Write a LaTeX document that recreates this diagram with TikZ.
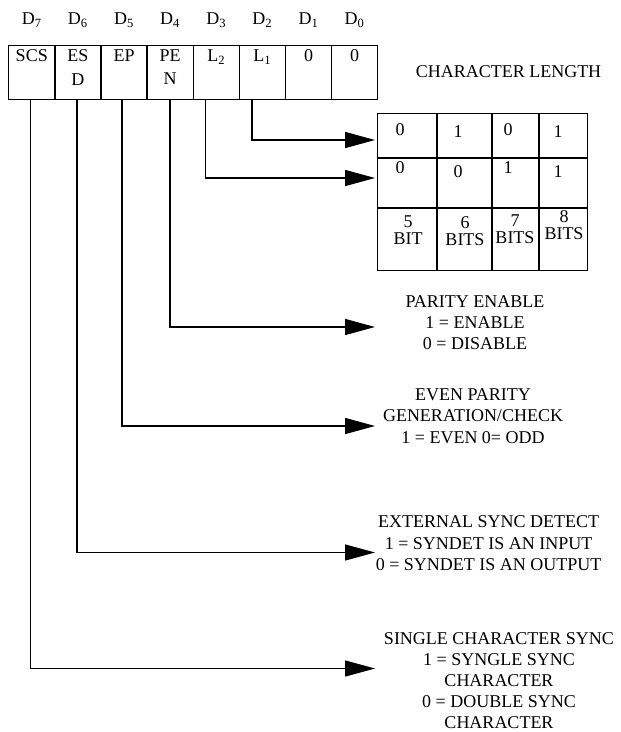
\documentclass[tikz,border=0pt]{standalone}
\usepackage{fontspec}
\setmainfont{Liberation Serif}
\usetikzlibrary{arrows.meta}
\begin{document}
\begin{tikzpicture}[x=1pt,y=-1pt,
  every node/.style={font=\fontsize{18}{21.4}\selectfont, inner sep=0pt},
  reg/.style={draw, line width=1.4pt, minimum width=46.125pt, minimum height=54pt, anchor=north west},
  dlab/.style={anchor=center},
  txt/.style={align=center},
  bits/.style={align=center, font=\fontsize{18}{16.5}\selectfont},
  conn/.style={line width=1.4pt, -{Triangle[length=30pt,width=16pt]}}
]
\useasboundingbox (0,0) rectangle (621,732);
\newcommand{\cellbox}[1]{\parbox[c][46pt][t]{44pt}{\centering\fontsize{18}{23.5}\selectfont #1}}
% register cells
\node[reg] (c7) at (8,45) {\cellbox{SCS}};
\node[reg] (c6) at (54.125,45) {\cellbox{ES\\D}};
\node[reg] (c5) at (100.25,45) {\cellbox{EP}};
\node[reg] (c4) at (146.375,45) {\cellbox{PE\\N}};
\node[reg] (c3) at (192.5,45) {\cellbox{L\textsubscript{2}}};
\node[reg] (c2) at (238.625,45) {\cellbox{L\textsubscript{1}}};
\node[reg] (c1) at (284.75,45) {\cellbox{0}};
\node[reg] (c0) at (330.875,45) {\cellbox{0}};
% bit labels
\node[dlab] (d7) at (c7.center |- 0,20) {D\textsubscript{7}};
\node[dlab] (d6) at (c6.center |- 0,20) {D\textsubscript{6}};
\node[dlab] (d5) at (c5.center |- 0,20) {D\textsubscript{5}};
\node[dlab] (d4) at (c4.center |- 0,20) {D\textsubscript{4}};
\node[dlab] (d3) at (c3.center |- 0,20) {D\textsubscript{3}};
\node[dlab] (d2) at (c2.center |- 0,20) {D\textsubscript{2}};
\node[dlab] (d1) at (c1.center |- 0,20) {D\textsubscript{1}};
\node[dlab] (d0) at (c0.center |- 0,20) {D\textsubscript{0}};
% character length
\node[txt] (cl) at (508.5,71.7) {CHARACTER LENGTH};
% table
\node[draw, line width=1.4pt, minimum width=210pt, minimum height=157pt, anchor=north west] (tbl) at (377,113) {};
\draw[line width=1.4pt] (377,158) -- (587,158) (377,208) -- (587,208)
  (437,113) -- (437,270) (492,113) -- (492,270) (539,113) -- (539,270);
\node (r1a) at (400,130) {0};
\node (r1b) at (458,132) {1};
\node (r1c) at (508,130) {0};
\node (r1d) at (558,132) {1};
\node (r2a) at (400,168) {0};
\node (r2b) at (458,172) {0};
\node (r2c) at (508,168) {1};
\node (r2d) at (558,172) {1};
\node[bits] (r3a) at (408,230) {5\\BIT};
\node[bits] (r3b) at (465,231) {6\\BITS};
\node[bits] (r3c) at (515,229) {7\\BITS};
\node[bits] (r3d) at (564,225) {8\\BITS};
% descriptions
\node[txt] (pe) at (475,322.7) {PARITY ENABLE\\1 = ENABLE\\0 = DISABLE};
\node[txt] (ep) at (473,416) {EVEN PARITY\\GENERATION/CHECK\\1 = EVEN 0= ODD};
\node[txt] (es) at (488.6,543.5) {EXTERNAL SYNC DETECT\\1 = SYNDET IS AN INPUT\\0 = SYNDET IS AN OUTPUT};
\node[txt, font=\fontsize{18}{21}\selectfont] (sc) at (499,681) {SINGLE CHARACTER SYNC\\1 = SYNGLE SYNC\\CHARACTER\\0 = DOUBLE SYNC\\CHARACTER};
% arrow tips
\coordinate (in1) at (375,140);
\coordinate (in2) at (375,178);
\coordinate (ape) at (375,327);
\coordinate (aep) at (375,426);
\coordinate (aes) at (375,552.5);
\coordinate (asc) at (375,668.5);
% connectors
\draw[conn] ([xshift=-10.5pt]c2.south) |- (in1);
\draw[conn] ([xshift=-11pt]c3.south) |- (in2);
\draw[conn] (c4.south) |- (ape);
\draw[conn] ([xshift=-2pt]c5.south) |- (aep);
\draw[conn] ([xshift=-1pt]c6.south) |- (aes);
\draw[conn] ([xshift=-1pt]c7.south) |- (asc);
\end{tikzpicture}
\end{document}
